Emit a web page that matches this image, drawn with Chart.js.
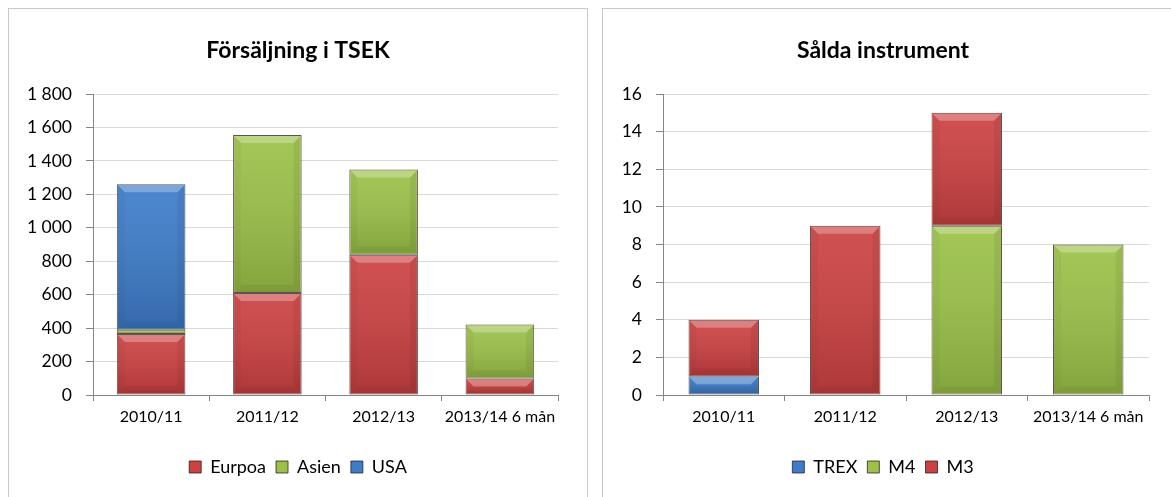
<!DOCTYPE html>
<html><head><meta charset="utf-8">
<script src="https://cdn.jsdelivr.net/npm/chart.js@4"></script>
<style>
html,body{margin:0;padding:0;background:#fff;width:1171px;height:497px;overflow:hidden}
.panel{position:absolute;top:8px;border:1px solid #C8C8C8;background:#fff}
#p1{left:8px;width:578px;height:500px}
#p2{left:602px;width:620px;height:500px}
canvas{display:block}
</style></head><body>
<div class="panel" id="p1"><canvas id="c1" width="578" height="490"></canvas></div>
<div class="panel" id="p2"><canvas id="c2" width="560" height="490"></canvas></div>
<script>
// ---- data ----
const categories = ['2010/11', '2011/12', '2012/13', '2013/14 6 mån'];
// Försäljning i TSEK
const europa = [365, 610, 838, 98];
const asien  = [25, 945, 510, 324];
const usa    = [870, null, null, null];
const salesTicks = ['0', '200', '400', '600', '800', '1 000', '1 200', '1 400', '1 600', '1 800'];
// Sålda instrument
const trex = [1, null, null, null];
const m4   = [null, null, 9, 8];
const m3   = [3, 9, 6, null];
const unitTicks = ['0', '2', '4', '6', '8', '10', '12', '14', '16'];

// ---- style ----
const FONT = 'Lato, "Open Sans", sans-serif';
const RED = '#CC4141', GREEN = '#9BC148', BLUE = '#3D7CC9';
const EDGE = 'rgba(40,25,25,0.75)';

const bevelPlugin = {
  id: 'bevel',
  afterDatasetsDraw(chart) {
    const ctx = chart.ctx;
    chart.data.datasets.forEach((ds, di) => {
      const meta = chart.getDatasetMeta(di);
      if (meta.hidden) return;
      meta.data.forEach((el, i) => {
        if (ds.data[i] == null) return;
        const p = el.getProps(['x', 'y', 'base', 'width'], true);
        const top = Math.min(p.y, p.base) + 1, bot = Math.max(p.y, p.base) - 1;
        const h = bot - top;
        if (!(h > 1)) return;
        const x0 = p.x - p.width / 2 + 1, x1 = p.x + p.width / 2 - 1, w = x1 - x0;
        ctx.save();
        ctx.beginPath(); ctx.rect(x0, top, w, h); ctx.clip();
        const g = ctx.createLinearGradient(0, top, 0, bot);
        g.addColorStop(0, 'rgba(255,255,255,0.08)');
        g.addColorStop(1, 'rgba(0,0,0,0.15)');
        ctx.fillStyle = g; ctx.fillRect(x0, top, w, h);
        const b = Math.min(7, h / 2, w / 2);
        ctx.fillStyle = 'rgba(255,255,255,0.28)';
        ctx.beginPath(); ctx.moveTo(x0, top); ctx.lineTo(x1, top); ctx.lineTo(x1 - b, top + b); ctx.lineTo(x0 + b, top + b); ctx.closePath(); ctx.fill();
        ctx.fillStyle = 'rgba(0,0,0,0.03)';
        ctx.beginPath(); ctx.moveTo(x0, top); ctx.lineTo(x0 + b, top + b); ctx.lineTo(x0 + b, bot - b); ctx.lineTo(x0, bot); ctx.closePath(); ctx.fill();
        ctx.fillStyle = 'rgba(0,0,0,0.06)';
        ctx.beginPath(); ctx.moveTo(x1, top); ctx.lineTo(x1 - b, top + b); ctx.lineTo(x1 - b, bot - b); ctx.lineTo(x1, bot); ctx.closePath(); ctx.fill();
        ctx.fillStyle = 'rgba(0,0,0,0.05)';
        ctx.beginPath(); ctx.moveTo(x0, bot); ctx.lineTo(x0 + b, bot - b); ctx.lineTo(x1 - b, bot - b); ctx.lineTo(x1, bot); ctx.closePath(); ctx.fill();
        ctx.restore();
      });
    });
  }
};

function ds(label, data, color, pct) {
  return { label, data, backgroundColor: color, borderColor: EDGE, borderWidth: 1,
           borderSkipped: false, categoryPercentage: 1, barPercentage: pct };
}

function makeChart(id, title, datasets, max, step, tickLabels, yWidth, padRight) {
  return new Chart(document.getElementById(id), {
    type: 'bar',
    data: { labels: categories, datasets },
    plugins: [bevelPlugin],
    options: {
      responsive: false, animation: false, devicePixelRatio: 1,
      layout: { padding: { left: 0, right: 0, top: 0, bottom: 13 } },
      plugins: {
        title: { display: true, text: title, color: '#000',
                 font: { family: FONT, size: 23, weight: 'bold', lineHeight: 1.2 },
                 padding: { top: 28, bottom: 29.4 } },
        legend: { position: 'bottom',
                  labels: { boxWidth: 12, boxHeight: 12, padding: 10, color: '#000',
                            font: { family: FONT, size: 18 } } },
        tooltip: { enabled: false }
      },
      scales: {
        x: { stacked: true,
             grid: { display: true, drawOnChartArea: false, drawTicks: true, tickLength: 6, color: '#868686', offset: true },
             border: { color: '#868686', width: 1 },
             ticks: { color: '#000', font: { family: FONT, size: 16 }, padding: 6.4, maxRotation: 0, autoSkip: false },
             afterFit(s) { s.height = 53; } },
        y: { stacked: true, min: 0, max,
             ticks: { stepSize: step, color: '#000', padding: 14, font: { family: FONT, size: 17.5 },
                      callback: (v, i) => tickLabels[i] },
             grid: { color: c => (c.tick && c.tick.value === 0 ? '#868686' : '#D9D9D9'), tickColor: '#868686', tickLength: 7 },
             border: { color: '#868686', width: 1 },
             afterFit(s) { s.width = yWidth; } },
        pad: { type: 'linear', axis: 'y', position: 'right', display: true,
               grid: { display: false }, ticks: { display: false }, border: { display: false },
               afterFit(s) { s.width = padRight; } }
      }
    }
  });
}

makeChart('c1', 'Försäljning i TSEK', [
  ds('Eurpoa', europa, RED, 0.59),
  ds('Asien', asien, GREEN, 0.59),
  ds('USA', usa, BLUE, 0.59)
], 1800, 200, salesTicks, 84, 29);

makeChart('c2', 'Sålda instrument', [
  ds('TREX', trex, BLUE, 0.58),
  ds('M4', m4, GREEN, 0.58),
  ds('M3', m3, RED, 0.58)
], 16, 2, unitTicks, 60, 14);
</script>
</body></html>
